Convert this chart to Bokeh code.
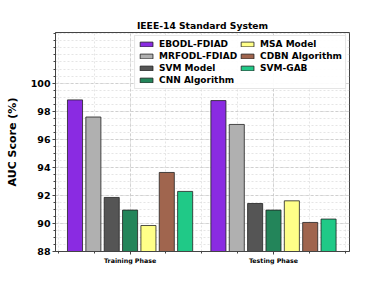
from bokeh.plotting import figure
from bokeh.models import FixedTicker, Range1d, Legend, LegendItem
from bokeh.embed import file_html
from bokeh.resources import INLINE

phases = ["Training Phase", "Testing Phase"]
models = ["EBODL-FDIAD", "MRFODL-FDIAD", "SVM Model", "CNN Algorithm",
          "MSA Model", "CDBN Algorithm", "SVM-GAB"]
ebodl = [98.80, 98.75]
mrfodl = [97.58, 97.05]
svm = [91.85, 91.42]
cnn = [90.95, 90.95]
msa = [89.85, 91.61]
cdbn = [93.63, 90.07]
svm_gab = [92.28, 90.31]
series = [ebodl, mrfodl, svm, cnn, msa, cdbn, svm_gab]
colors = ["#8a2be2", "#b0b0b0", "#555555", "#23855a", "#ffff88", "#a0654e", "#20c987"]
yticks = [88, 90, 92, 94, 96, 98, 100]

F = "DejaVu Sans"
p = figure(width=359, height=283, output_backend="svg", toolbar_location=None,
           x_range=Range1d(-0.52, 1.53), y_range=Range1d(88, 103.6),
           min_border_left=55, min_border_right=10, min_border_top=32, min_border_bottom=32)
p.title.text = "IEEE-14 Standard System"
p.title.align = "center"
p.title.text_font = F
p.title.text_font_size = "9.2px"
p.title.text_font_style = "bold"
p.title.text_color = "black"
p.title.offset = 0
p.title.standoff = 4

step = 0.128
width = 0.105
renderers = []
for i, (name, vals, c) in enumerate(zip(models, series, colors)):
    off = (i - 3) * step
    xs = [k + off for k in range(len(phases))]
    r = p.vbar(x=xs, top=vals, bottom=0, width=width, fill_color=c,
               line_color="#222222", line_width=1, line_alpha=0.8)
    renderers.append((name, r))

# axes
p.xaxis.ticker = FixedTicker(ticks=[0, 1], minor_ticks=[-0.5, -0.25, 0, 0.25, 0.5, 0.75, 1, 1.25, 1.5])
p.xaxis.major_label_overrides = {0: phases[0], 1: phases[1]}
p.xaxis.major_label_text_font = F
p.xaxis.major_label_text_font_size = "6.3px"
p.xaxis.major_label_text_font_style = "bold"
p.yaxis.ticker = FixedTicker(ticks=yticks, minor_ticks=[88 + 0.5 * k for k in range(32)])
p.yaxis.major_label_text_font = F
p.yaxis.major_label_text_font_size = "9.5px"
p.yaxis.major_label_text_font_style = "bold"
p.yaxis.axis_label = "AUC Score (%)"
p.yaxis.axis_label_text_font = F
p.yaxis.axis_label_text_font_size = "11px"
p.yaxis.axis_label_text_font_style = "bold"
p.yaxis.axis_label_standoff = 9
p.yaxis.axis_label_text_color = "black"
for ax in (p.xaxis[0], p.yaxis[0]):
    ax.major_label_text_color = "black"
    ax.axis_line_color = "#444444"
    ax.major_tick_line_color = "#444444"
    ax.minor_tick_line_color = "#444444"
    ax.major_tick_out = 3
    ax.major_tick_in = 0
    ax.minor_tick_out = 2
    ax.minor_tick_in = 0
    ax.major_label_standoff = 2
p.outline_line_color = "#444444"
p.outline_line_width = 1

for g in (p.xgrid[0], p.ygrid[0]):
    g.grid_line_color = "#c4c4c4"
    g.grid_line_dash = "3 2"
    g.grid_line_width = 0.7
    g.minor_grid_line_color = "#d4d4d4"
    g.minor_grid_line_dash = "2 2"
    g.minor_grid_line_width = 0.6

legend = Legend(items=[LegendItem(label=n, renderers=[r]) for n, r in renderers],
                location="top_right", nrows=4, orientation="vertical")
legend.label_text_font = F
legend.label_text_font_size = "9px"
legend.label_text_font_style = "bold"
legend.label_text_color = "black"
legend.label_height = 10
legend.glyph_height = 6
legend.glyph_width = 16
legend.label_standoff = 5
legend.spacing = 2
legend.padding = 3
legend.margin = 3
legend.border_line_color = "#cccccc"
legend.background_fill_alpha = 0.9
legend.item_background_fill_alpha = 0
p.add_layout(legend)

open("out.html", "w").write(file_html(p, INLINE))
